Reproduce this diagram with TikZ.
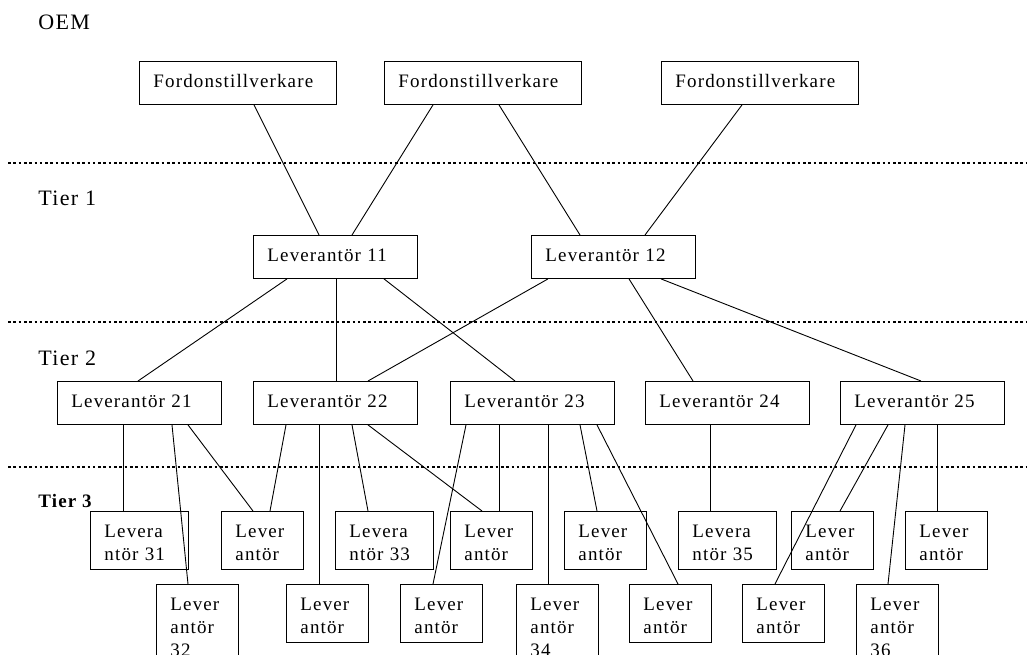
\documentclass[tikz,border=0pt]{standalone}
\usepackage{fontspec}
\setmainfont{Liberation Serif}[LetterSpace=6]
\begin{document}
\begin{tikzpicture}[x=1pt,y=-1pt,line width=0.9pt,
	box/.style={draw,anchor=north west,align=left,inner xsep=14pt,inner ysep=0pt,
		text height=26pt,font=\fontsize{19}{23}\selectfont},
	oem/.style={box,text width=169pt,text depth=17pt},
	lev/.style={box,text width=136pt,text depth=17pt},
	wide/.style={box,text width=70pt,text depth=32pt},
	narrow/.style={box,text width=54pt,text depth=32pt},
	tall/.style={box,text width=54pt,text depth=56pt},
	tier/.style={anchor=base west,inner sep=0pt,font=\fontsize{22}{26}\selectfont},
	sep/.style={line width=2.2pt,dash pattern=on 2.6pt off 2.7pt}]
	\useasboundingbox (0,0) rectangle (1027,655);
	\clip (0,0) rectangle (1027,655);
	% tier labels and separators
	\node[tier] (oemlabel) at (38,30) {OEM};
	\node[tier] (tier1) at (38,205) {Tier 1};
	\node[tier] (tier2) at (38,365) {Tier 2};
	\node[tier,font=\fontsize{19}{23}\selectfont\bfseries] (tier3) at (38,507) {Tier 3};
	\draw[sep] (8,163) -- (1027,163);
	\draw[sep] (8,322) -- (1027,322);
	\draw[sep] (8,467) -- (1027,467);
	% OEM
	\node[oem] (f1) at (139,61) {Fordonstillverkare};
	\node[oem] (f2) at (384,61) {Fordonstillverkare};
	\node[oem] (f3) at (661,61) {Fordonstillverkare};
	% tier 1
	\node[lev] (l11) at (253,235) {Leverantör 11};
	\node[lev] (l12) at (531,235) {Leverantör 12};
	% tier 2
	\node[lev] (l21) at (57,381) {Leverantör 21};
	\node[lev] (l22) at (253,381) {Leverantör 22};
	\node[lev] (l23) at (450,381) {Leverantör 23};
	\node[lev] (l24) at (645,381) {Leverantör 24};
	\node[lev] (l25) at (840,381) {Leverantör 25};
	% tier 3, upper row
	\node[wide] (l31) at (90,511) {Levera\\ntör 31};
	\node[narrow] (la) at (221,511) {Lever\\antör};
	\node[wide] (l33) at (335,511) {Levera\\ntör 33};
	\node[narrow] (lb) at (450,511) {Lever\\antör};
	\node[narrow] (lc) at (564,511) {Lever\\antör};
	\node[wide] (l35) at (678,511) {Levera\\ntör 35};
	\node[narrow] (ld) at (791,511) {Lever\\antör};
	\node[narrow] (le) at (905,511) {Lever\\antör};
	% tier 3, lower row
	\node[tall] (l32) at (156,584) {Lever\\antör\\32};
	\node[narrow] (lf) at (286,584) {Lever\\antör};
	\node[narrow] (lg) at (400,584) {Lever\\antör};
	\node[tall] (l34) at (516,584) {Lever\\antör\\34};
	\node[narrow] (lh) at (629,584) {Lever\\antör};
	\node[narrow] (li) at (742,584) {Lever\\antör};
	\node[tall] (l36) at (856,584) {Lever\\antör\\36};
	% connectors: from/offset/to/offset
	\foreach \a/\i/\b/\j in {f1/115/l11/66, f2/49/l11/99, f2/115/l12/49, f3/81/l12/114,
		l11/34/l21/81, l11/83/l22/83, l11/131/l23/65,
		l12/17/l22/115, l12/98/l24/48, l12/130/l25/81,
		l21/66/l31/33, l21/115/l32/32, l21/131/la/32,
		l22/33/la/49, l22/66/lf/33, l22/99/l33/33, l22/115/lb/32,
		l23/16/lg/33, l23/49/lb/49, l23/98/l34/32, l23/130/lc/33, l23/147/lh/49,
		l24/65/l35/32,
		l25/16/li/33, l25/48/ld/49, l25/65/l36/32, l25/97/le/32}
		\draw ([xshift=\i pt]\a.south west) -- ([xshift=\j pt]\b.north west);
\end{tikzpicture}
\end{document}
